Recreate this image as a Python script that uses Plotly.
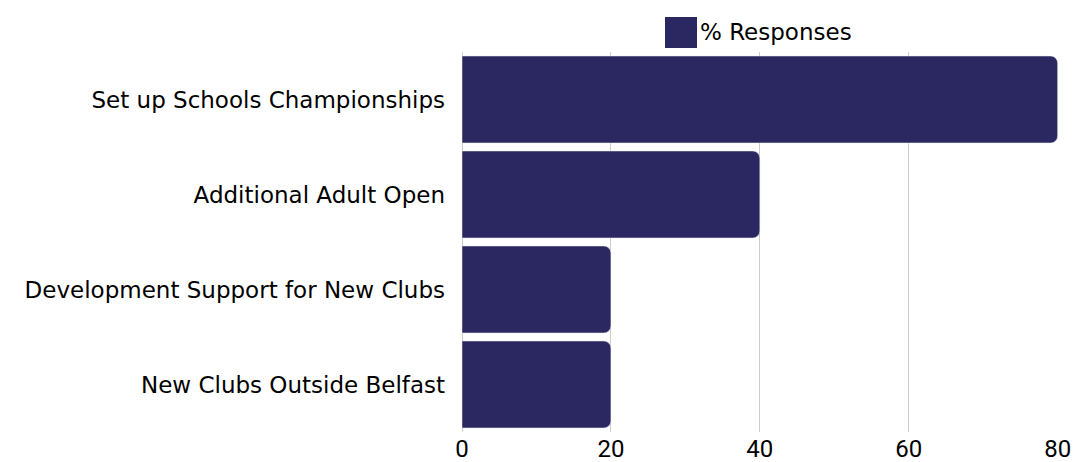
import plotly.graph_objects as go

categories = [
    "Set up Schools Championships",
    "Additional Adult Open",
    "Development Support for New Clubs",
    "New Clubs Outside Belfast",
]
responses = [80, 40, 20, 20]
series_name = "% Responses"
tick_values = [0, 20, 40, 60, 80]

bar_color = "#2b2760"
font_family = "DejaVu Sans, Arial, sans-serif"
tick_family = "Liberation Sans Narrow, Roboto, Arial, sans-serif"

W, H = 1073, 462
L, R, T, B = 462, 15, 52, 30
pw, ph = W - L - R, H - T - B


def px_x(x):
    return (x - L) / pw


def px_y(y):
    return (H - B - y) / ph


fig = go.Figure(
    go.Bar(
        x=responses,
        y=categories,
        orientation="h",
        name=series_name,
        marker_color=bar_color,
        showlegend=False,
    )
)

fig.update_layout(
    width=W,
    height=H,
    margin=dict(l=L, r=R, t=T, b=B),
    paper_bgcolor="white",
    plot_bgcolor="white",
    font=dict(family=font_family, size=23, color="black"),
    bargap=0.085,
    barcornerradius=7,
    # legend drawn by hand so the swatch can be as large as in the reference
    shapes=[
        dict(
            type="rect",
            xref="paper",
            yref="paper",
            x0=px_x(665),
            x1=px_x(697),
            y0=px_y(48),
            y1=px_y(17),
            fillcolor=bar_color,
            line_width=0,
        )
    ],
    annotations=[
        dict(
            text=series_name,
            xref="paper",
            yref="paper",
            x=px_x(698),
            y=px_y(32),
            xanchor="left",
            yanchor="middle",
            showarrow=False,
            font=dict(size=23, color="black"),
        )
    ],
)

fig.update_xaxes(
    range=[0, 80.05],
    tickvals=tick_values,
    automargin=False,
    showgrid=True,
    gridcolor="#cccccc",
    gridwidth=1,
    zeroline=True,
    zerolinecolor="#cccccc",
    zerolinewidth=1,
    showline=False,
    ticks="",
    ticklabelstandoff=0,
    tickfont=dict(family=tick_family, size=24),
    fixedrange=True,
)
fig.update_yaxes(
    categoryorder="array",
    categoryarray=categories[::-1],
    automargin=False,
    showgrid=False,
    showline=False,
    ticks="",
    ticklabelstandoff=16,
    tickfont=dict(size=23),
    fixedrange=True,
)

fig.write_html(
    "out.html",
    config={"displayModeBar": False},
    post_script="document.body.style.margin='0';document.body.style.overflow='hidden';",
)
